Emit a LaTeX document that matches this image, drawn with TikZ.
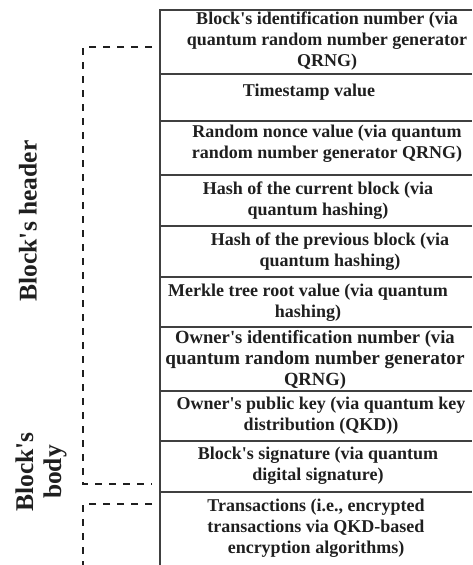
\documentclass[tikz,border=0pt]{standalone}
\usepackage{fontspec}
\setmainfont{Liberation Serif}
\newcommand\apos{\textquotesingle}
\begin{document}
\begin{tikzpicture}[x=1pt,y=-1pt,
  ink/.style={color=black!88},
  cellrule/.style={draw=black!75,line width=1.1pt},
  celltext/.style={ink,font=\bfseries\fontsize{18}{21}\selectfont,align=center,inner sep=0pt},
  sidelabel/.style={ink,font=\bfseries\fontsize{25.5}{28}\selectfont,align=center,rotate=90,inner sep=0pt},
  bracket/.style={draw=black!88,line width=1.8pt,dash pattern=on 7pt off 7pt}]
\useasboundingbox (0,0) rectangle (472,565);

% table frame and row separators
\draw[cellrule] (472,10) -- (160,10) -- (160,565);
\foreach \y in {74,121,175,226,277,327,391,441,492}
  \draw[cellrule] (160,\y) -- (472,\y);

% cell contents
\node[celltext] (bid)  at (327,41)  {Block\apos s identification number (via\\quantum random number generator\\QRNG)};
\node[celltext] (ts)   at (309,92)  {Timestamp value};
\node[celltext] (nonce) at (327,144) {Random nonce value (via quantum\\random number generator QRNG)};
\node[celltext] (hcur) at (318,201) {Hash of the current block (via\\quantum hashing)};
\node[celltext] (hprev) at (330,252) {Hash of the previous block (via\\quantum hashing)};
\node[celltext] (merk) at (308,303) {Merkle tree root value (via quantum\\hashing)};
\node[celltext,font=\bfseries\fontsize{18.6}{21}\selectfont] (oid)  at (315,360)
  {Owner\apos s identification number (via\\{\fontsize{19.2}{21}\selectfont quantum random number generator}\\QRNG)};
\node[celltext] (opk)  at (321,416) {Owner\apos s public key (via quantum key\\distribution (QKD))};
\node[celltext] (sig)  at (318,466) {Block\apos s signature (via quantum\\digital signature)};
\node[celltext] (tx)   at (316,528) {Transactions (i.e., encrypted\\transactions via QKD-based\\encryption algorithms)};

% side labels
\node[sidelabel] (hdr)  at (28,221) {Block\apos s header};
\node[sidelabel] (body) at (41,472) {Block\apos s\\body};

% dashed brackets
\coordinate (h1) at (152,47);
\coordinate (h2) at (152,484);
\coordinate (b1) at (152,504);
\coordinate (b2) at (83,565);
\draw[bracket] (h1) -- (83,47) -- (83,484) -- (h2);
\draw[bracket] (b1) -- (83,504) -- (b2);
\end{tikzpicture}
\end{document}
